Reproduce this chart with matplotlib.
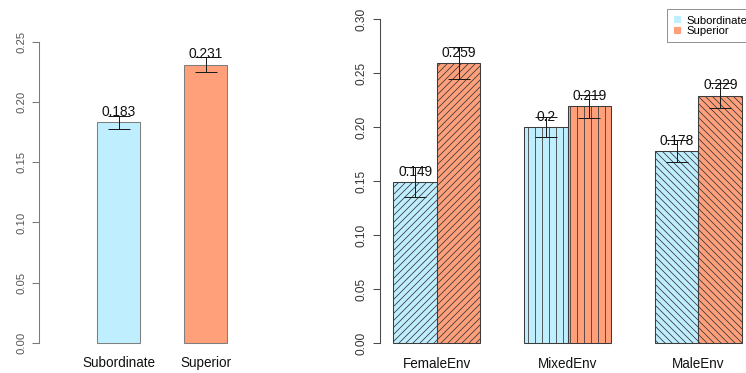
import numpy as np
import matplotlib
matplotlib.use("Agg")
import matplotlib.pyplot as plt
from matplotlib.lines import Line2D

plt.rcParams["font.family"] = ["Liberation Sans", "DejaVu Sans"]
plt.rcParams["hatch.linewidth"] = 0.7

# overall rates by role
roles = ["Subordinate", "Superior"]
role_means = [0.183, 0.231]
role_err = [0.0055, 0.0062]

# rates by environment
envs = ["FemaleEnv", "MixedEnv", "MaleEnv"]
sub_means = [0.149, 0.200, 0.178]
sup_means = [0.259, 0.219, 0.229]
sub_err = [0.014, 0.0095, 0.0104]
sup_err = [0.015, 0.0107, 0.0114]
hatches = ["////", "||", "\\\\\\\\"]

blue = "#BFEFFF"
salmon = "#FFA07A"

DPI = 84
W, H = 746.3, 373.3
fig = plt.figure(figsize=(W / DPI, H / DPI), dpi=DPI)


def px_axes(x0, x1, ytop, ybot):
    return fig.add_axes([x0 / W, (H - ybot) / H, (x1 - x0) / W, (ybot - ytop) / H])


def style_axis(ax, top, color, labsize, labcolor):
    for s in ["top", "right", "bottom"]:
        ax.spines[s].set_visible(False)
    ax.spines["left"].set_bounds(0, top)
    ax.spines["left"].set_color(color)
    ax.spines["left"].set_linewidth(0.9)
    ax.tick_params(axis="y", length=5.6, width=0.9, color=color, pad=5.5,
                   labelsize=labsize, labelcolor=labcolor)
    for lab in ax.get_yticklabels():
        lab.set_rotation(90)
        lab.set_va("center")
    ax.set_xticks([])


def value_labels(ax, xs, vals, errs):
    ax.errorbar(xs, vals, yerr=errs, fmt="none", ecolor="#1a1a1a",
                elinewidth=0.85, capsize=9.4, capthick=0.85)
    for x, v in zip(xs, vals):
        ax.annotate(f"{v:g}", (x, v), xytext=(0, 9), textcoords="offset points",
                    ha="center", va="center", fontsize=11.8, color="#111111")


def cat_labels(ax, xs, names):
    for x, n in zip(xs, names):
        ax.annotate(n, (x, 0), xytext=(0, -17.5), textcoords="offset points",
                    ha="center", va="center", fontsize=11.6, color="#111111")


# left panel: overall
ax1 = px_axes(39, 290, 30, 355)
x_role = np.array([1.5, 3.5])
ax1.bar(x_role, role_means, width=1, color=[blue, salmon],
        edgecolor="#7f7f7f", linewidth=0.9)
value_labels(ax1, x_role, role_means, role_err)
cat_labels(ax1, x_role, roles)
ax1.set_xlim(-0.333, -0.333 + 251 / 43.5)
ax1.set_ylim(-12 / 1204, 313 / 1204)
ax1.set_yticks(np.arange(0, 0.26, 0.05))
ax1.set_yticklabels([f"{t:.2f}" for t in np.arange(0, 0.26, 0.05)])
style_axis(ax1, 0.25, "#7a7a7a", 9.6, "#555555")

# right panel: by environment
ax2 = px_axes(380, 746.3, 6, 356)
starts = 1 + 3 * np.arange(len(envs))
x_sub = starts + 0.5
x_sup = starts + 1.5
for i in range(len(envs)):
    ax2.bar(x_sub[i], sub_means[i], width=1, color=blue, edgecolor="#3c3c3c",
            linewidth=0.9, hatch=hatches[i])
    ax2.bar(x_sup[i], sup_means[i], width=1, color=salmon, edgecolor="#3c3c3c",
            linewidth=0.9, hatch=hatches[i])
value_labels(ax2, x_sub, sub_means, sub_err)
value_labels(ax2, x_sup, sup_means, sup_err)
cat_labels(ax2, starts + 1, envs)
ax2.set_xlim(0.695, 0.695 + (746.3 - 380) / 43.6)
ax2.set_ylim(-12.7 / 1080, 337.3 / 1080)
ax2.set_yticks(np.arange(0, 0.31, 0.05))
ax2.set_yticklabels([f"{t:.2f}" for t in np.arange(0, 0.31, 0.05)])
style_axis(ax2, 0.30, "#4a4a4a", 10.2, "#333333")

handles = [Line2D([], [], ls="none", marker="s", ms=4.3, color=blue),
           Line2D([], [], ls="none", marker="s", ms=4.3, color=salmon)]
leg = fig.legend(handles, roles, loc="upper left",
                 bbox_to_anchor=(667 / W, 1 - 9.3 / H), borderaxespad=0,
                 fontsize=9.6, frameon=True, fancybox=False, framealpha=1,
                 borderpad=0.57, handlelength=0.6, handletextpad=0.6,
                 labelspacing=0.05)
leg.get_frame().set_edgecolor("#8a8a8a")
leg.get_frame().set_linewidth(0.8)

plt.savefig("out.png", dpi=DPI)
